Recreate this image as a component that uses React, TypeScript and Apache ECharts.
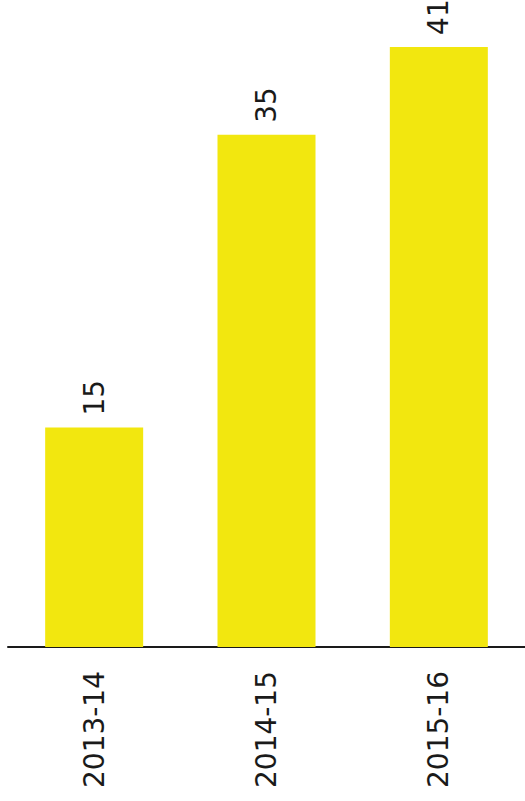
import React, { useEffect, useRef } from "react";
import * as echarts from "echarts";

const categories = ["2013-14", "2014-15", "2015-16"];
const values = [15, 35, 41];

export default function App() {
  const ref = useRef<HTMLDivElement>(null);
  useEffect(() => {
    if (!ref.current) return;
    const chart = echarts.init(ref.current, null, { renderer: "svg" });
    chart.setOption({
      animation: false,
      grid: { left: 8, width: 520, top: 3, height: 644, containLabel: false },
      xAxis: {
        type: "category",
        data: categories,
        axisLine: { lineStyle: { color: "#1a1a1a", width: 2 } },
        axisTick: { show: false },
        axisLabel: {
          rotate: 90,
          margin: 24,
          color: "#1a1a1a",
          fontFamily: "DejaVu Sans",
          fontSize: 28,
        },
      },
      yAxis: {
        type: "value",
        min: 0,
        max: 44,
        show: false,
        splitLine: { show: false },
      },
      series: [
        {
          type: "bar",
          data: values,
          barWidth: 98,
          itemStyle: { color: "#F2E70F" },
          label: {
            show: true,
            position: "top",
            rotate: 90,
            align: "left",
            verticalAlign: "middle",
            distance: 12,
            color: "#1a1a1a",
            fontFamily: "DejaVu Sans",
            fontSize: 28,
          },
        },
      ],
    });
    return () => chart.dispose();
  }, []);
  return (
    <div
      ref={ref}
      style={{ position: "absolute", left: 0, top: 0, width: 525, height: 801 }}
    />
  );
}
